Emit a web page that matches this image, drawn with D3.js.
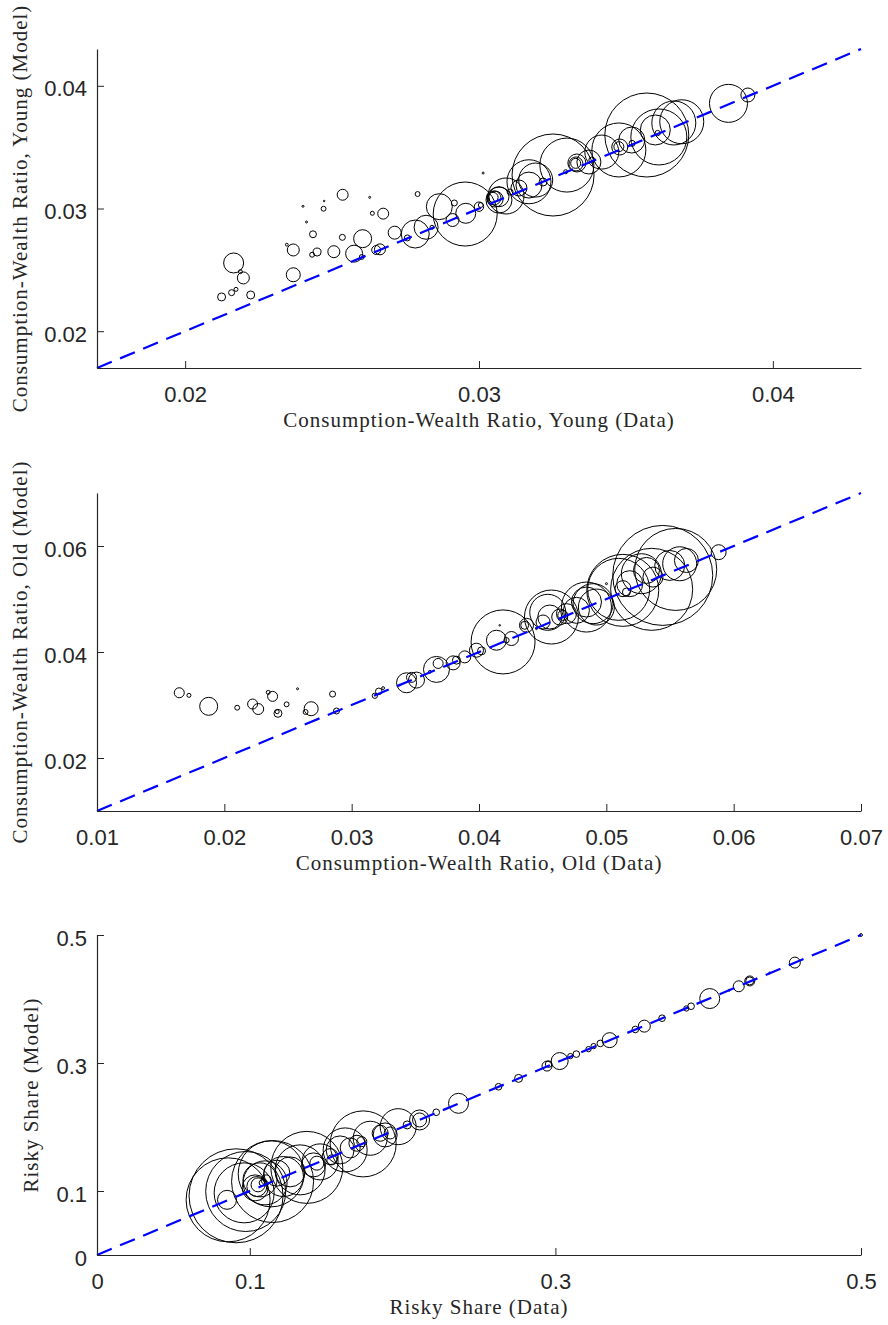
<!DOCTYPE html>
<html>
<head>
<meta charset="utf-8">
<script src="https://cdn.jsdelivr.net/npm/d3@7.9.0/dist/d3.min.js"></script>
<style>
  body { margin: 0; background: #fff; }
  svg { display: block; }
  .tick text { font-family: "Liberation Sans", Arial, sans-serif; font-size: 22px; fill: #262626; }
  .tick line, .domain { stroke: #262626; }
  .axis-label { font-family: "Liberation Serif", "Times New Roman", serif; font-size: 21px; letter-spacing: 1px; fill: #262626; }
</style>
</head>
<body>
<svg width="888" height="1325"></svg>
<script>
// panel 1: consumption-wealth ratio, young
const youngData = [0.02124,0.02158,0.02173,0.02165,0.02188,0.02198,0.02223,0.02346,0.02368,0.02368,
  0.02401,0.02413,0.02435,0.02432,0.02449,0.02473,0.02471,0.02536,0.02506,0.02535,
  0.02604,0.02575,0.02601,0.02628,0.02637,0.02674,0.02650,0.02663,0.02713,0.02756,
  0.02783,0.02820,0.02791,0.02840,0.02865,0.02953,0.02916,0.02910,0.02955,0.03014,
  0.03006,0.03000,0.03048,0.03051,0.03055,0.03068,0.03068,0.03136,0.03170,0.03193,
  0.03170,0.03252,0.03299,0.03329,0.03330,0.03333,0.03295,0.03384,0.03476,0.03479,
  0.03476,0.03520,0.03521,0.03571,0.03600,0.03608,0.03663,0.03690,0.03849,0.03915,
  0.03106,0.03218,0.03418,0.03374,0.03092,0.03612];
const youngModel = [0.02279,0.02314,0.02341,0.02556,0.02485,0.02434,0.02295,0.02705,0.02662,0.02460,
  0.03018,0.02890,0.02790,0.02623,0.02645,0.03061,0.02998,0.03112,0.02648,0.02765,
  0.02754,0.02632,0.02605,0.03091,0.02961,0.02958,0.02662,0.02667,0.02803,0.02760,
  0.02792,0.02847,0.03118,0.02847,0.03015,0.02955,0.03045,0.02906,0.02961,0.03289,
  0.03028,0.03015,0.03091,0.03086,0.03077,0.03096,0.03069,0.03167,0.03191,0.03232,
  0.03218,0.03273,0.03354,0.03368,0.03363,0.03371,0.03300,0.03395,0.03504,0.03501,
  0.03477,0.03558,0.03531,0.03599,0.03640,0.03615,0.03697,0.03707,0.03857,0.03925,
  0.03134,0.03216,0.03460,0.03379,0.03102,0.03583];
const youngWeight = [16,9,4,100,4,36,16,2,36,49,
  1,1,12,6,16,0.6,6,30,36,9,
  81,72,6,1,4,30,20,30,42,9,
  196,144,6,4,169,1024,9,42,100,1,
  6,22,25,49,64,100,169,64,169,289,
  484,1681,729,25,49,81,4,9,25,64,
  729,169,9,1764,225,7,484,484,361,49,
  9,16,289,144,324,784];

// panel 2: consumption-wealth ratio, old
const oldData = [0.01646,0.01722,0.01877,0.02101,0.02222,0.02266,0.02345,0.02379,0.02421,0.02415,
  0.02489,0.02575,0.02638,0.02682,0.02850,0.02881,0.03182,0.03213,0.03247,0.03378,
  0.03431,0.03470,0.03509,0.03666,0.03679,0.03614,0.03797,0.03823,0.03888,0.03980,
  0.04020,0.04189,0.04137,0.04255,0.04163,0.04373,0.04451,0.04569,0.04503,0.04634,
  0.04658,0.04844,0.04896,0.04765,0.05001,0.04922,0.05131,0.05158,0.05097,0.05275,
  0.05315,0.05443,0.05576,0.05629,0.05498,0.05882,0.05545,0.05356,0.05366,0.04844,
  0.04687,0.05184,0.05129,0.04359,0.04216,0.04556,0.04540];
const oldModel = [0.03231,0.03182,0.02975,0.02949,0.03018,0.02924,0.03238,0.03163,0.02843,0.02873,
  0.03013,0.03306,0.02868,0.02930,0.03206,0.02887,0.03174,0.03257,0.03319,0.03376,
  0.03419,0.03521,0.03470,0.03671,0.03784,0.03626,0.03795,0.03846,0.03908,0.04034,
  0.04021,0.04190,0.04222,0.04254,0.04504,0.04504,0.04442,0.04660,0.04566,0.04660,
  0.04692,0.04943,0.04912,0.04786,0.05289,0.04848,0.05195,0.05131,0.05182,0.05477,
  0.05539,0.05445,0.05665,0.05727,0.05633,0.05883,0.05558,0.05182,0.05413,0.04848,
  0.04724,0.05289,0.05163,0.04504,0.04222,0.04660,0.04749];
const oldWeight = [25,4,81,6,25,30,4,25,16,4,
  6,1,6,49,9,9,7,11,2,0.6,
  100,25,64,169,25,2,49,16,36,49,
  16,1024,100,49,0.6,49,1,729,49,64,
  25,225,400,169,1,324,64,16,961,400,
  169,2500,289,144,225,56,1681,1681,100,625,
  100,169,1296,16,7,144,324];

// panel 3: risky share
const riskyData = [0.0858,0.0851,0.0973,0.0910,0.1140,0.1046,0.1035,0.1054,0.1149,0.1067,
  0.1177,0.1220,0.1100,0.1373,0.1417,0.1439,0.1526,0.1537,0.1701,0.1733,
  0.1742,0.1788,0.1853,0.1971,0.2022,0.2111,0.2111,0.2220,0.2366,0.2628,
  0.2759,0.2945,0.2956,0.3028,0.3098,0.3137,0.3217,0.3250,0.3294,0.3355,
  0.3523,0.3582,0.3698,0.3857,0.3888,0.4010,0.4137,0.4200,0.4272,0.4272,
  0.4403,0.4567,0.5000,0.1264,0.1329,0.1460,0.1591,0.1624,0.1886,0.1657,
  0.1107,0.1081,0.0963,0.1919,0.2030];
const riskyModel = [0.0862,0.0862,0.0992,0.0925,0.1268,0.1070,0.1049,0.1096,0.1148,0.1174,
  0.1279,0.1226,0.1127,0.1369,0.1408,0.1435,0.1537,0.1486,0.1746,0.1771,
  0.1736,0.1824,0.1902,0.2005,0.2016,0.2110,0.2110,0.2230,0.2370,0.2629,
  0.2760,0.2952,0.2983,0.3030,0.3108,0.3139,0.3217,0.3264,0.3306,0.3357,
  0.3524,0.3576,0.3700,0.3852,0.3887,0.4007,0.4137,0.4199,0.4282,0.4282,
  0.4407,0.4569,0.5000,0.1299,0.1330,0.1455,0.1642,0.1642,0.1876,0.1673,
  0.1174,0.1127,0.0971,0.1907,0.2032];
const riskyWeight = [1764,90,1600,2209,1089,100,169,49,1681,289,
  169,400,484,1296,144,49,64,25,64,25,
  1089,289,64,324,1,100,49,11,100,11,
  16,25,11,72,7,11,7,7,11,56,
  11,36,11,7,11,100,1,30,25,16,
  1,30,2,225,625,324,196,484,144,100,
  25,9,900,36,16];

const youngTicks = [0.02, 0.03, 0.04];
const oldYTicks = [0.02, 0.04, 0.06];
const oldXTicks = [0.01, 0.02, 0.03, 0.04, 0.05, 0.06, 0.07];
const riskyTicks = [0, 0.1, 0.3, 0.5];

const panels = [
  { x: youngData, y: youngModel, w: youngWeight, domain: [0.017, 0.043],
    xTicks: youngTicks, yTicks: youngTicks, top: 49, bottom: 368, yLabelX: 27,
    xLabel: "Consumption-Wealth Ratio, Young (Data)", yLabel: "Consumption-Wealth Ratio, Young (Model)" },
  { x: oldData, y: oldModel, w: oldWeight, domain: [0.01, 0.07],
    xTicks: oldXTicks, yTicks: oldYTicks, top: 493, bottom: 811, yLabelX: 27,
    xLabel: "Consumption-Wealth Ratio, Old (Data)", yLabel: "Consumption-Wealth Ratio, Old (Model)" },
  { x: riskyData, y: riskyModel, w: riskyWeight, domain: [0, 0.5],
    xTicks: riskyTicks, yTicks: riskyTicks, top: 935, bottom: 1255, yLabelX: 38,
    xLabel: "Risky Share (Data)", yLabel: "Risky Share (Model)" }
];

const left = 97, right = 861;
const svg = d3.select("svg");
const fmt = d3.format("~g");
const r = d3.scaleSqrt().domain([0, 100]).range([0, 10]);

panels.forEach(p => {
  const x = d3.scaleLinear().domain(p.domain).range([left, right]);
  const y = d3.scaleLinear().domain(p.domain).range([p.bottom, p.top]);
  const g = svg.append("g");

  const pts = p.x.map((d, i) => ({ data: d, model: p.y[i], w: p.w[i] }));

  g.append("g").selectAll("circle")
    .data(pts)
    .join("circle")
    .attr("cx", d => x(d.data))
    .attr("cy", d => y(d.model))
    .attr("r", d => r(d.w))
    .attr("fill", "none")
    .attr("stroke", "#000")
    .attr("stroke-width", 1);

  g.append("path")
    .datum(p.domain)
    .attr("d", d3.line().x(d => x(d)).y(d => y(d)))
    .attr("fill", "none")
    .attr("stroke", "#0000ff")
    .attr("stroke-width", 2.2)
    .attr("stroke-dasharray", "16,9");

  g.append("g")
    .attr("transform", `translate(0,${p.bottom})`)
    .call(d3.axisBottom(x).tickValues(p.xTicks).tickFormat(fmt)
      .tickSizeInner(-7).tickSizeOuter(0).tickPadding(18))
    .call(a => a.select(".domain").attr("stroke-width", 1.2));

  g.append("g")
    .attr("transform", `translate(${left},0)`)
    .call(d3.axisLeft(y).tickValues(p.yTicks).tickFormat(fmt)
      .tickSizeInner(-7).tickSizeOuter(0).tickPadding(10))
    .call(a => a.select(".domain").attr("stroke-width", 1.2))
    .call(a => a.selectAll(".tick text").attr("dy", "0.46em"));

  g.selectAll(".tick text").attr("font-family", null).attr("font-size", null);

  g.append("text")
    .attr("class", "axis-label")
    .attr("x", (left + right) / 2)
    .attr("y", p.bottom + 59)
    .attr("text-anchor", "middle")
    .text(p.xLabel);

  g.append("text")
    .attr("class", "axis-label")
    .attr("transform", `translate(${p.yLabelX},${(p.top + p.bottom) / 2}) rotate(-90)`)
    .attr("text-anchor", "middle")
    .text(p.yLabel);
});
</script>
</body>
</html>
